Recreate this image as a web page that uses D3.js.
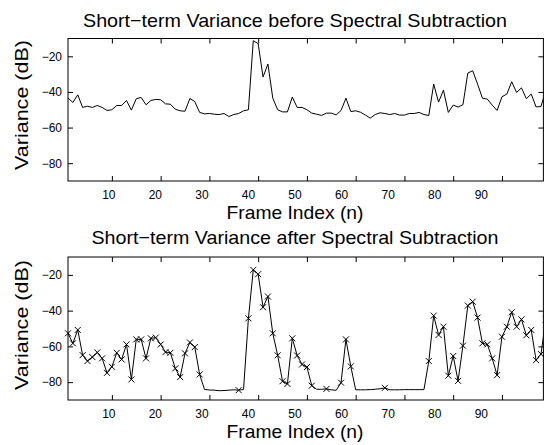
<!DOCTYPE html>
<html><head><meta charset="utf-8">
<script src="https://cdn.jsdelivr.net/npm/d3@7"></script>
<style>
html,body{margin:0;padding:0;background:#fff;}
svg{display:block;font-family:"Liberation Sans",Arial,Helvetica,sans-serif;}
</style></head>
<body>
<script>
// ---------- data ----------
const frames = d3.range(1, 100);
const before = [-43.4,-45.9,-41.6,-48.7,-48.0,-48.7,-47.6,-48.7,-50.4,-50.0,
-47.6,-47.6,-44.8,-50.2,-43.8,-43.1,-47.2,-44.8,-44.2,-44.4,
-46.7,-46.9,-49.7,-50.6,-50.8,-43.7,-45.4,-51.5,-52.3,-52.1,
-52.5,-52.7,-52.1,-53.8,-52.7,-52.1,-50.6,-50.0,-11.2,-12.9,
-31.6,-24.3,-43.5,-50.0,-51.2,-51.2,-42.9,-48.7,-48.7,-50.0,
-51.9,-52.5,-53.2,-51.9,-51.9,-52.9,-50.4,-43.5,-51.0,-50.6,
-51.4,-53.0,-54.7,-52.7,-51.7,-52.1,-52.7,-52.1,-53.0,-53.0,
-52.1,-52.1,-51.5,-52.7,-53.2,-35.6,-45.7,-39.0,-51.5,-47.4,
-48.5,-47.2,-29.4,-28.1,-35.6,-43.5,-44.0,-47.4,-50.4,-42.7,
-41.2,-34.3,-40.3,-37.7,-43.8,-41.2,-48.4,-48.2,-39.0];
const after = [-52.7,-58.3,-50.8,-64.9,-68.2,-66.0,-63.4,-66.7,-74.8,-71.4,
-63.6,-67.3,-58.9,-78.5,-56.1,-56.1,-66.7,-55.5,-55.1,-58.9,
-63.2,-63.6,-72.3,-77.2,-63.9,-57.8,-60.4,-75.7,-84.1,-84.4,
-84.5,-84.8,-84.7,-84.5,-84.3,-84.5,-84.1,-44.3,-17.2,-19.6,
-38.1,-32.1,-52.7,-65.0,-79.5,-81.0,-55.5,-65.1,-70.1,-71.6,
-82.0,-84.0,-84.0,-83.8,-84.3,-84.6,-80.3,-56.1,-71.2,-84.3,
-84.3,-84.3,-84.2,-84.0,-83.7,-83.2,-84.3,-84.3,-84.3,-84.2,
-84.2,-84.2,-84.2,-84.2,-68.2,-42.8,-53.6,-49.0,-76.4,-65.4,
-79.3,-59.6,-37.2,-35.0,-43.9,-58.3,-58.9,-66.7,-76.1,-54.6,
-49.0,-40.9,-49.0,-44.9,-53.8,-50.8,-67.7,-64.3,-45.0];
// frames of the "after" series drawn without an x marker
const unmarked = [29,30,31,32,33,34,35,37,52,53,55,56,60,61,62,63,64,65,67,68,69,70,71,72,73,74];
const xTicks = [10,20,30,40,50,60,70,80,90];
const yTicks = [-80,-60,-40,-20];
const titles = ["Short\u2212term Variance before Spectral Subtraction",
                "Short\u2212term Variance after Spectral Subtraction"];
const xLabel = "Frame Index (n)";
const yLabel = "Variance (dB)";

// ---------- layout ----------
const W = 544, H = 445;
const svg = d3.select("body").append("svg").attr("width", W).attr("height", H);
const left = 68, right = 543.4;
const x = d3.scaleLinear().domain([1, 98.5]).range([left, right]);
// tick labels in the reference sit on a slightly compressed grid
const xLab = d3.scaleLinear().domain([10, 90]).range([108.3, 480.8]);

const panels = [
  {top: 38.5, bottom: 181, data: before, marks: false, title: titles[0], titleY: 27, xlabY: 219, ylabY: 105},
  {top: 257, bottom: 400, data: after, marks: true, title: titles[1], titleY: 244, xlabY: 438, ylabY: 325}
];

panels.forEach((p, i) => {
  const y = d3.scaleLinear().domain([-90, -10]).range([p.bottom, p.top]);
  const g = svg.append("g");
  const clipId = "clip" + i;
  svg.append("clipPath").attr("id", clipId).append("rect")
    .attr("x", left).attr("y", p.top).attr("width", right - left).attr("height", p.bottom - p.top);

  // axes
  const ab = g.append("g").attr("transform", `translate(0,${p.bottom})`)
    .call(d3.axisBottom(x).tickValues(xTicks).tickSize(-5).tickPadding(9).tickFormat(d3.format("d")));
  ab.selectAll("text").attr("x", d => xLab(d) - x(d));
  const at = g.append("g").attr("transform", `translate(0,${p.top})`)
    .call(d3.axisTop(x).tickValues(xTicks).tickSize(-5).tickFormat(""));
  const al = g.append("g").attr("transform", `translate(${left},0)`)
    .call(d3.axisLeft(y).tickValues(yTicks).tickSize(-5).tickPadding(6).tickFormat(d => "\u2212" + Math.abs(d)));
  const ar = g.append("g").attr("transform", `translate(${right},0)`)
    .call(d3.axisRight(y).tickValues(yTicks).tickSize(-5).tickFormat(""));
  [ab, at, al, ar].forEach(a => {
    a.select(".domain").remove();
    a.selectAll("line").attr("stroke", "#000").attr("stroke-width", 1);
    a.selectAll("text").attr("fill", "#000").style("font-size", "12px")
      .style("font-family", '"Liberation Sans",Arial,sans-serif');
  });
  g.append("rect").attr("x", left).attr("y", p.top).attr("width", right - left).attr("height", p.bottom - p.top)
    .attr("fill", "none").attr("stroke", "#000").attr("stroke-width", 1);

  // line
  const line = d3.line().x((d, j) => x(frames[j])).y(d => y(d));
  g.append("path").datum(p.data).attr("clip-path", `url(#${clipId})`)
    .attr("d", line).attr("fill", "none").attr("stroke", "#000").attr("stroke-width", 1);

  if (p.marks) {
    const pts = frames.map((f, j) => ({f, v: p.data[j]})).filter(d => !unmarked.includes(d.f));
    const s = 3;
    g.append("g").selectAll("path").data(pts).join("path")
      .attr("d", d => {
        const cx = x(d.f), cy = y(d.v);
        return `M${cx - s},${cy - s}L${cx + s},${cy + s}M${cx - s},${cy + s}L${cx + s},${cy - s}`;
      })
      .attr("stroke", "#000").attr("stroke-width", 1).attr("fill", "none");
  }

  // texts
  svg.append("text").attr("x", 295).attr("y", p.titleY).attr("text-anchor", "middle")
    .style("font-size", "19px").attr("textLength", i === 0 ? 424 : 407).attr("lengthAdjust", "spacingAndGlyphs")
    .text(p.title);
  svg.append("text").attr("x", 295).attr("y", p.xlabY).attr("text-anchor", "middle")
    .style("font-size", "19px").attr("textLength", 137).attr("lengthAdjust", "spacingAndGlyphs")
    .text(xLabel);
  svg.append("text").attr("transform", `translate(28.3,${p.ylabY}) rotate(-90)`).attr("text-anchor", "middle")
    .style("font-size", "19px").attr("textLength", 130).attr("lengthAdjust", "spacingAndGlyphs")
    .text(yLabel);
});
</script>
</body></html>
